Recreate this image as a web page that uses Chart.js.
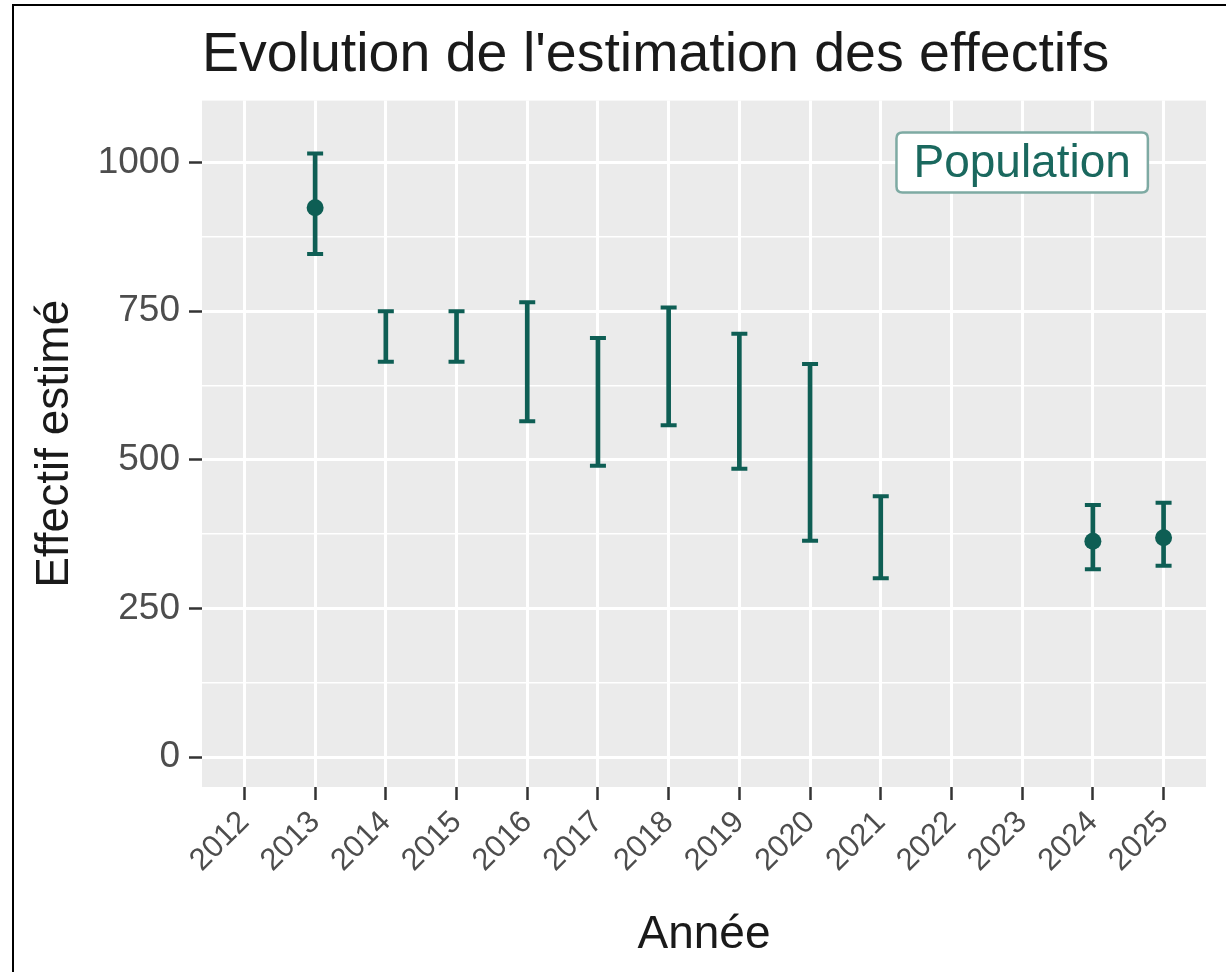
<!DOCTYPE html>
<html><head><meta charset="utf-8">
<script src="https://cdn.jsdelivr.net/npm/chart.js@4.4.1/dist/chart.umd.min.js"></script>
<style>
html,body{margin:0;padding:0;background:#fff;}
#wrap{position:relative;width:1226px;height:972px;overflow:hidden;}
#frame{position:absolute;left:12px;top:4px;width:1300px;height:1000px;border-top:2px solid #000;border-left:2px solid #000;pointer-events:none;}
canvas{position:absolute;left:0;top:0;}
</style></head><body>
<div id="wrap"><canvas id="c" width="1226" height="972"></canvas><div id="frame"></div></div>
<script>
// ---- data ----
const years = [2012,2013,2014,2015,2016,2017,2018,2019,2020,2021,2022,2023,2024,2025];
const yearLabels = ['2012','2013','2014','2015','2016','2017','2018','2019','2020','2021','2022','2023','2024','2025'];
const barYears = [2013,2014,2015,2016,2017,2018,2019,2020,2021,2024,2025];
const lowerCI  = [846,665,665,565,490,558,485,364,301,316,322];
const upperCI  = [1015,750,750,765,705,756,712,661,439,424,428];
const pointYears  = [2013,2024,2025];
const pointValues = [924,363,369];
const yMajorTicks = [0,250,500,750,1000];
const yMinorTicks = [125,375,625,875];
const labelText = 'Population';
const labelYear = 2023;
const labelValue = 1000;

// ---- styling ----
const TEAL = '#0e5e54';
const FONT = "'Liberation Sans', Arial, sans-serif";

const bgPlugin = {
  id: 'panelBg',
  beforeDraw(chart) {
    const {ctx, chartArea: a} = chart;
    ctx.save();
    ctx.fillStyle = '#ebebeb';
    ctx.fillRect(a.left, a.top, a.right - a.left, a.bottom - a.top);
    ctx.restore();
  }
};

const labelPlugin = {
  id: 'popLabel',
  afterDatasetsDraw(chart) {
    const {ctx} = chart;
    const x = chart.scales.x.getPixelForValue(labelYear);
    const y = chart.scales.y.getPixelForValue(labelValue);
    ctx.save();
    ctx.font = '46px ' + FONT;
    const w = ctx.measureText(labelText).width + 34;
    const h = 60;
    const l = x - w / 2, t = y - h / 2, r = 6;
    ctx.beginPath();
    ctx.moveTo(l + r, t);
    ctx.lineTo(l + w - r, t); ctx.quadraticCurveTo(l + w, t, l + w, t + r);
    ctx.lineTo(l + w, t + h - r); ctx.quadraticCurveTo(l + w, t + h, l + w - r, t + h);
    ctx.lineTo(l + r, t + h); ctx.quadraticCurveTo(l, t + h, l, t + h - r);
    ctx.lineTo(l, t + r); ctx.quadraticCurveTo(l, t, l + r, t);
    ctx.closePath();
    ctx.fillStyle = '#ffffff';
    ctx.fill();
    ctx.lineWidth = 2.5;
    ctx.strokeStyle = '#7eaaa3';
    ctx.stroke();
    ctx.fillStyle = '#1a685e';
    ctx.textAlign = 'center';
    ctx.textBaseline = 'middle';
    ctx.fillText(labelText, x, y + 2);
    ctx.restore();
  }
};

const barData = barYears.map((yr, i) => ({x: yr, y: [lowerCI[i], upperCI[i]]}));
const lowCaps = barYears.map((yr, i) => ({x: yr, y: lowerCI[i]}));
const highCaps = barYears.map((yr, i) => ({x: yr, y: upperCI[i]}));
const points = pointYears.map((yr, i) => ({x: yr, y: pointValues[i]}));

const capStyle = {
  type: 'scatter', pointStyle: 'line', pointRadius: 8, pointHoverRadius: 8,
  borderColor: TEAL, backgroundColor: TEAL, pointBorderWidth: 4, borderWidth: 4
};

new Chart(document.getElementById('c'), {
  type: 'scatter',
  data: {
    datasets: [
      {type: 'bar', data: barData, backgroundColor: TEAL, borderWidth: 0, barThickness: 4, order: 3},
      Object.assign({data: lowCaps, order: 2}, capStyle),
      Object.assign({data: highCaps, order: 2}, capStyle),
      {type: 'scatter', data: points, pointStyle: 'circle', pointRadius: 8.5, pointHoverRadius: 8.5,
       backgroundColor: TEAL, borderColor: TEAL, borderWidth: 0, order: 1}
    ]
  },
  options: {
    responsive: false,
    animation: false,
    devicePixelRatio: 1,
    layout: {padding: {left: 14, right: 20, top: 8, bottom: 8}},
    plugins: {
      legend: {display: false},
      tooltip: {enabled: false},
      title: {
        display: true, text: "Evolution de l'estimation des effectifs",
        align: 'start', fullSize: false, color: '#1a1a1a',
        font: {family: FONT, size: 55.5, weight: 'normal'},
        padding: {top: 14, bottom: 12}
      }
    },
    scales: {
      x: {
        type: 'linear', min: 2011.4, max: 2025.6, offset: false,
        afterBuildTicks(scale) { scale.ticks = years.map(v => ({value: v})); },
        afterFit(scale) { scale.height = 177; },
        border: {display: false},
        grid: {offset: false, color: '#ffffff', lineWidth: 3, drawTicks: true, tickLength: 13, tickColor: '#333333', tickWidth: 2.5},
        ticks: {
          autoSkip: false, minRotation: 45, maxRotation: 45, padding: 4,
          color: '#4d4d4d', font: {family: FONT, size: 31},
          callback: (v) => { const i = years.indexOf(v); return i >= 0 ? yearLabels[i] : ''; }
        },
        title: {display: true, text: 'Année', color: '#1a1a1a', font: {family: FONT, size: 46}, padding: {top: 0, bottom: 1}}
      },
      y: {
        type: 'linear', min: -50, max: 1104,
        afterBuildTicks(scale) {
          scale.ticks = yMajorTicks.concat(yMinorTicks).sort((a, b) => a - b).map(v => ({value: v}));
        },
        afterFit(scale) { scale.width = 188; },
        border: {display: false},
        grid: {
          color: '#ffffff',
          lineWidth: (c) => yMajorTicks.includes(c.tick && c.tick.value) ? 3 : 1.5,
          drawTicks: true, tickLength: 13, tickWidth: 2.5,
          tickColor: (c) => yMajorTicks.includes(c.tick && c.tick.value) ? '#333333' : 'rgba(0,0,0,0)'
        },
        ticks: {
          padding: 9, color: '#4d4d4d', font: {family: FONT, size: 37},
          callback: (v) => yMajorTicks.includes(v) ? String(v) : ''
        },
        title: {display: true, text: 'Effectif estimé', color: '#1a1a1a', font: {family: FONT, size: 46}, padding: {top: 14, bottom: 0}}
      }
    }
  },
  plugins: [bgPlugin, labelPlugin]
});
</script>
</body></html>
